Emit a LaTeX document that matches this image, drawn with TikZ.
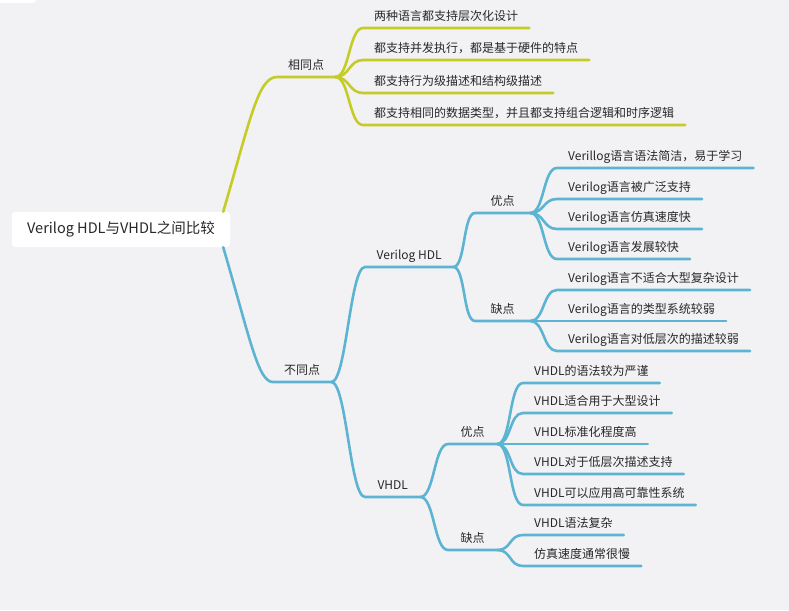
\documentclass[tikz,border=0pt]{standalone}
\usepackage{fontspec}
\setmainfont{Noto Sans CJK SC}
\usetikzlibrary{positioning,calc}
\definecolor{MapYellow}{RGB}{197,204,38}
\definecolor{MapBlue}{RGB}{92,180,210}
\definecolor{MapBack}{RGB}{242,242,244}
\definecolor{MapText}{RGB}{40,40,40}
\tikzset{
  root/.style={draw=none,fill=white,rounded corners=3pt,minimum width=218pt,
    minimum height=35pt,font=\fontsize{14.5}{17}\selectfont,text=MapText},
  topic/.style={anchor=south west,inner xsep=11pt,inner ysep=4pt,minimum width=55pt,
    text height=9pt,text depth=3pt,font=\fontsize{12}{14}\selectfont,text=MapText},
  leaf/.style={topic,minimum width=0pt},
  ylink/.style={draw=MapYellow,line width=2.6pt,line cap=round},
  blink/.style={draw=MapBlue,line width=2.6pt,line cap=round},
}

\begin{document}
\begin{tikzpicture}[x=1pt,y=-1pt]
  \fill[MapBack] (0,0) rectangle (789,610);
  \useasboundingbox (0,0) rectangle (789,610);
  \fill[white,rounded corners=3pt] (-10,-10) rectangle (36,3);

  \node[root] (cmp) at (121,229.5) {Verilog HDL与VHDL之间比较};

  % 相同点
  \node[topic] (same) at (277,77) {相同点};
  \node[leaf] (s1) at (363,28) {两种语言都支持层次化设计};
  \node[leaf] (s2) at (363,60) {都支持并发执行，都是基于硬件的特点};
  \node[leaf] (s3) at (363,93) {都支持行为级描述和结构级描述};
  \node[leaf] (s4) at (363,125) {都支持相同的数据类型，并且都支持组合逻辑和时序逻辑};
  \draw[ylink] ([xshift=-7pt]cmp.north east) .. controls +(27,-92) and +(-19,0) .. (same.south west)
    -- (same.south east);
  \foreach \c in {s1,s2,s3,s4}
    \draw[ylink] (same.south east) .. controls +(14,0) and +(-14,0) .. (\c.south west)
      -- (\c.south east);

  % 不同点
  \node[topic] (diff) at (273,382) {不同点};
  \draw[blink] ([xshift=-7pt]cmp.south east) .. controls +(27,92) and +(-15,0) .. (diff.south west)
    -- (diff.south east);

  \node[topic,minimum width=88pt] (vlog) at (365,267) {Verilog HDL};
  \node[topic] (vhdl) at (365,497) {VHDL};
  \foreach \c in {vlog,vhdl}
    \draw[blink] (diff.south east) .. controls +(15,0) and +(-15,0) .. (\c.south west)
      -- (\c.south east);

  % Verilog HDL
  \node[topic] (vpro) at (475,213) {优点};
  \node[topic] (vcon) at (475,321) {缺点};
  \foreach \c in {vpro,vcon}
    \draw[blink] (vlog.south east) .. controls +(12,0) and +(-12,0) .. (\c.south west)
      -- (\c.south east);
  \node[leaf] (vp1) at (557,168) {Verillog语言语法简洁，易于学习};
  \node[leaf] (vp2) at (557,199) {Verilog语言被广泛支持};
  \node[leaf] (vp3) at (557,229) {Verilog语言仿真速度快};
  \node[leaf] (vp4) at (557,259) {Verilog语言发展较快};
  \node[leaf] (vc1) at (557,290) {Verilog语言不适合大型复杂设计};
  \node[leaf] (vc2) at (557,321) {Verilog语言的类型系统较弱};
  \node[leaf] (vc3) at (557,351) {Verilog语言对低层次的描述较弱};
  \foreach \c in {vp1,vp2,vp3,vp4}
    \draw[blink] (vpro.south east) .. controls +(14,0) and +(-14,0) .. (\c.south west)
      -- (\c.south east);
  \foreach \c in {vc1,vc2,vc3}
    \draw[blink] (vcon.south east) .. controls +(14,0) and +(-14,0) .. (\c.south west)
      -- (\c.south east);

  % VHDL
  \node[topic,minimum width=49pt] (hpro) at (448,444) {优点};
  \node[topic,minimum width=49pt] (hcon) at (448,550) {缺点};
  \foreach \c in {hpro,hcon}
    \draw[blink] (vhdl.south east) .. controls +(14,0) and +(-14,0) .. (\c.south west)
      -- (\c.south east);
  \node[leaf] (hp1) at (523,383) {VHDL的语法较为严谨};
  \node[leaf] (hp2) at (523,413) {VHDL适合用于大型设计};
  \node[leaf] (hp3) at (523,444) {VHDL标准化程度高};
  \node[leaf] (hp4) at (523,474) {VHDL对于低层次描述支持};
  \node[leaf] (hp5) at (523,505) {VHDL可以应用高可靠性系统};
  \node[leaf] (hc1) at (523,535) {VHDL语法复杂};
  \node[leaf] (hc2) at (523,566) {仿真速度通常很慢};
  \foreach \c in {hp1,hp2,hp3,hp4,hp5}
    \draw[blink] (hpro.south east) .. controls +(14,0) and +(-14,0) .. (\c.south west)
      -- (\c.south east);
  \foreach \c in {hc1,hc2}
    \draw[blink] (hcon.south east) .. controls +(14,0) and +(-14,0) .. (\c.south west)
      -- (\c.south east);
\end{tikzpicture}
\end{document}
